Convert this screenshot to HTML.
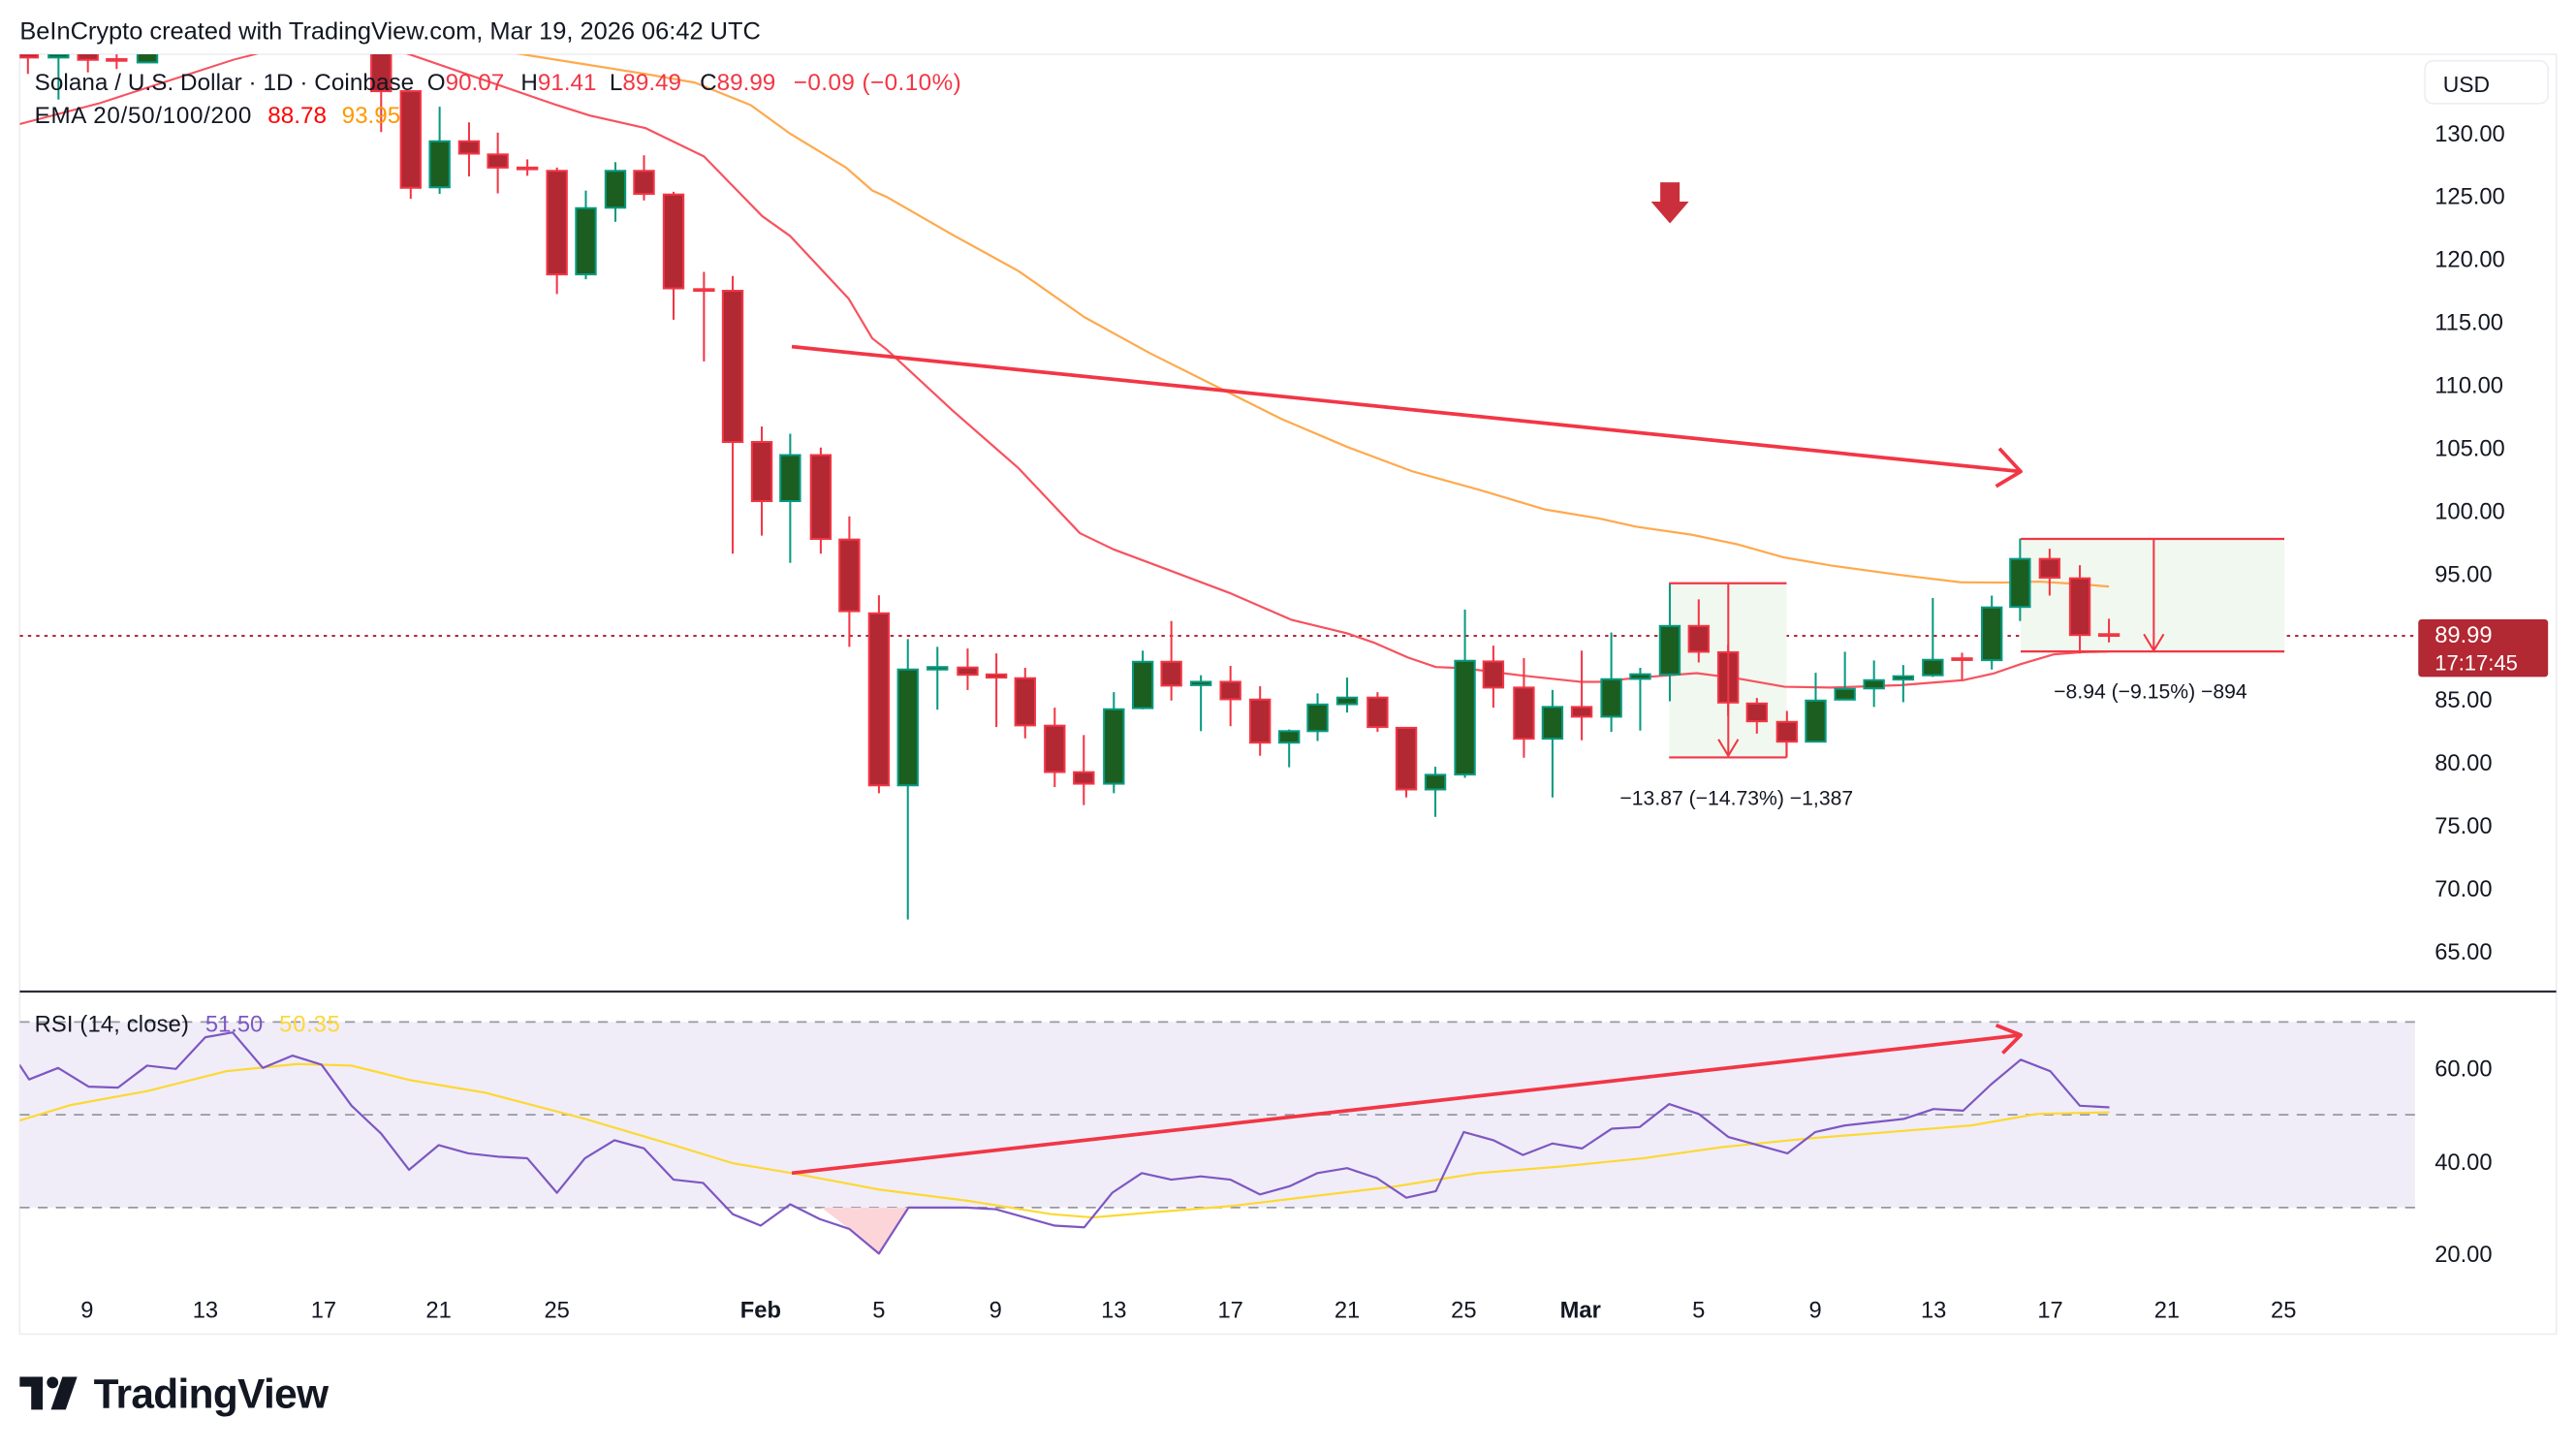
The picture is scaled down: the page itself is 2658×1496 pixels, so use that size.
<!DOCTYPE html>
<html><head><meta charset="utf-8"><style>
html,body{margin:0;padding:0;background:#fff;}
svg{display:block;font-family:"Liberation Sans",sans-serif;}
</style></head><body>
<svg id="s" width="2658" height="1496" viewBox="0 0 1568 882.55" preserveAspectRatio="none" xmlns="http://www.w3.org/2000/svg">
<rect width="1568" height="882.55" fill="#fff"/>
<defs>
<clipPath id="cp"><rect x="12" y="33" width="1458" height="570"/></clipPath>
<clipPath id="cr"><rect x="12" y="604" width="1458" height="180"/></clipPath>
</defs>
<text x="12" y="24" font-size="15" fill="#131722" textLength="451">BeInCrypto created with TradingView.com, Mar 19, 2026 06:42 UTC</text>
<rect x="12" y="33" width="1544" height="779" fill="none" stroke="#eceef2" stroke-width="1"/>
<rect x="1476" y="37" width="75" height="26" rx="5" fill="#fff" stroke="#eceef2"/>
<text x="1487" y="56" font-size="13.5" fill="#131722">USD</text>
<g font-size="14" fill="#131722" id="yax"></g>
<g id="price" clip-path="url(#cp)"></g>
<line x1="12" y1="603.5" x2="1556" y2="603.5" stroke="#2a2e39" stroke-width="1.3"/>
<rect x="12" y="622" width="1458" height="113" fill="#f0edf8"/>
<g stroke="#9598a1" stroke-width="1" stroke-dasharray="6,5">
<line x1="12" y1="622" x2="1470" y2="622"/><line x1="12" y1="678.5" x2="1470" y2="678.5"/><line x1="12" y1="735" x2="1470" y2="735"/>
</g>
<g id="rsi" clip-path="url(#cr)"></g>
<text x="21" y="628" font-size="14" fill="#131722" textLength="94">RSI (14, close)</text>
<text x="125" y="628" font-size="14" fill="#7e57c2" textLength="35">51.50</text>
<text x="170" y="628" font-size="14" fill="#fdd835" textLength="37">50.35</text>
<g font-size="14" fill="#131722">
<text x="1482" y="655">60.00</text><text x="1482" y="712">40.00</text><text x="1482" y="768">20.00</text>
</g>
<g font-size="14" fill="#131722" text-anchor="middle" id="xax"></g>
<g font-size="14.3" fill="#131722">
<text x="21" y="55" textLength="231">Solana / U.S. Dollar · 1D · Coinbase</text>
<text x="260" y="55">O<tspan fill="#f23645">90.07</tspan></text>
<text x="317" y="55">H<tspan fill="#f23645">91.41</tspan></text>
<text x="371" y="55">L<tspan fill="#f23645">89.49</tspan></text>
<text x="426" y="55">C<tspan fill="#f23645">89.99</tspan></text>
<text x="483" y="55" fill="#f23645" textLength="102">−0.09 (−0.10%)</text>
<text x="21" y="75" textLength="132">EMA 20/50/100/200</text>
<text x="163" y="75" fill="#ff0000">88.78</text>
<text x="208" y="75" fill="#ff9800">93.95</text>
</g>
<rect x="1472" y="377" width="79" height="35" rx="2" fill="#b22833"/>
<text x="1482" y="391" font-size="14" fill="#fff">89.99</text>
<text x="1482" y="408" font-size="13" fill="#fff">17:17:45</text>
<g fill="#131722">
<rect x="12" y="838" width="14" height="6"/><rect x="19" y="838" width="7" height="20"/>
<circle cx="32" cy="841.5" r="3.5"/>
<polygon points="38,838 47,838 40,858 31,858"/>
</g>
<text x="57" y="857" font-size="25" font-weight="bold" fill="#131722" textLength="143">TradingView</text>
</svg>
<script>
var NS="http://www.w3.org/2000/svg";
function el(p,t,a,txt){var e=document.createElementNS(NS,t);for(var k in a)e.setAttribute(k,a[k]);if(txt)e.textContent=txt;p.appendChild(e);return e;}
var yax=document.getElementById('yax');
for(var p=130;p>=65;p-=5){var y=81+(130-p)*7.662;if(Math.abs(y-387)<14)continue;el(yax,'text',{x:1482,y:y+5},p.toFixed(2));}
var xax=document.getElementById('xax');
[[53,'9'],[125,'13'],[197,'17'],[267,'21'],[339,'25'],[463,'Feb',1],[535,'5'],[606,'9'],[678,'13'],[749,'17'],[820,'21'],[891,'25'],[962,'Mar',1],[1034,'5'],[1105,'9'],[1177,'13'],[1248,'17'],[1319,'21'],[1390,'25']].forEach(function(a){var t=el(xax,'text',{x:a[0],y:802},a[1]);if(a[2])t.setAttribute('font-weight','bold');});
var g=document.getElementById('price');
el(g,'line',{x1:12,y1:387,x2:1470,y2:387,stroke:'#b22833','stroke-width':1.2,'stroke-dasharray':'2,3'});
el(g,'rect',{x:1016,y:355,width:71.5,height:106,fill:'#f1f8ef'});
el(g,'rect',{x:1230,y:328,width:160.5,height:68.5,fill:'#f1f8ef'});
function pl(pts,c,w,par){el(par||g,'polyline',{points:pts.map(function(q){return q.join(',')}).join(' '),fill:'none',stroke:c,'stroke-width':w||1.2,'stroke-linejoin':'round'});}
pl([[298,29.5],[321.8,33.7],[393,45],[423,50.3],[457,64],[481,81.4],[515,102],[531,116],[540,120],[580,143],[620,165],[660,193],[700,215],[740,235],[780,255],[820,272],[860,287],[900,298],[940,310],[973.5,315.6],[996,320.6],[1030,325.5],[1058,331.4],[1086,339.3],[1114.5,344.2],[1157,350],[1193.5,354.4],[1219,354.6],[1241,354],[1267,355.6],[1283.7,357]],'#ffa94d',1.3);
pl([[12,75.5],[60,63],[100,50],[142,36.4],[159,32],[180,26]],'#f7525f',1.2);
pl([[230,26],[247,32.3],[339,64],[359,70.3],[393,78],[428.5,95.2],[464,131.6],[481,143.7],[516.5,181.7],[531,206],[540,213],[580,250],[620,285],[657.3,324.5],[677.6,334.3],[711.5,347],[748.7,361],[786,377.2],[820,385.5],[837,391.4],[857,400.2],[874,406],[891,406.7],[925,411],[962,415],[973.5,415],[998,412.4],[1016,411],[1032.7,409.7],[1058,413],[1086.3,418],[1114.5,418.5],[1157,417],[1195,414],[1213.2,410],[1230,404.2],[1250,398.3],[1267,397],[1283.7,396.5]],'#f7525f',1.3);
var C=[[17,33,35,30,45,0],[35.6,33,35,30,60.6,1],[53.5,30,36.4,30,44,0],[71,36,37,31,42,0],[89.7,30,38,30,38,1],
[232,20,55.5,20,80.4,0],[250,55.5,114.3,55.5,121,0],[267.6,86,114,65,118,1],[285.5,86,93.5,74.5,107.4,0],[303,94,102,80.7,117.7,0],[321,102,103,97,107,0],[339,104,167,102,179,0],[356.6,126.7,167,116,170,1],[374.6,104,126.4,98.7,135,1],[392,104,118,94.5,122,0],[410,118.4,175.5,116.7,194.6,0],[428.5,176,177,165.5,220,0],[446,177,269,168,337,0],[463.7,269,305,259.6,326,0],[481,277,305,264,342.6,1],[499.6,277,328,272.4,337,0],[517,328.4,372,314.3,393.7,0],
[535,373.3,478,362.3,482.8,0],[552.6,407.5,478,389,559.6,1],[570.6,406,407.5,393.7,432,1],[589,406.3,410.7,394.7,420,0],[606.5,410.5,412.4,397.7,442.5,0],[624,412.8,441.5,406.5,449.4,0],[642,441.7,469.9,430.7,479,0],[659.7,470,477,447.4,490,0],[678,431.7,477,421.3,482.8,1],[695.6,402.8,431,396,431.7,1],[713,402.8,417.3,378,426.4,0],[731,415,417,411,445,1],[749,415,425.6,405.3,442,0],[767,425.8,452,417.7,460,0],[784.7,445,452,444,467,1],[802,428.8,445,422,451,1],[820,424.6,428.6,412.4,433.7,1],[838.5,424.6,442.5,421.3,445.5,0],[856,443,480.5,443,485.4,0],[873.7,471.6,480.5,466.7,497.2,1],[891.7,402.2,471.4,371,473.4,1],[909,402.6,418.5,393,430.7,0],[927.6,418.5,449.6,400.6,461.2,0],[945,430.3,449.6,420,485.4,1],[962.8,430.3,436.2,396,450.6,0],[980.8,413.4,436.2,385,445.5,1],[998.4,410.4,413.2,406.5,444.7,1],[1016.4,381,410.5,355,426.8,1],[1034,381,396.7,364.8,403.2,0],[1051.9,397,427.6,392.4,435.6,0],[1069.4,428.2,439,424.8,446.5,0],[1087.7,439.4,451.4,432.7,451.4,0],[1105.2,426.4,451.4,409.5,451.4,1],[1123,419.3,425.8,396.7,425.8,1],[1140.7,414,419,402,430.3,1],[1158.5,411.6,413.6,404.8,427.4,1],[1176.5,401.6,411,364,412,1],[1194.3,400.7,401.7,397.3,413.6,0],[1212.4,369.7,401.8,362.5,407.5,1],[1229.6,340.2,369.4,327.8,378,1],[1247.6,340.2,351.6,334,362.5,0],[1266,352,386.5,344,397.7,0],[1283.7,386,387,376.6,391,0]];
C.forEach(function(c){var col=c[5]?'#089981':'#f23645',fill=c[5]?'#1b5e20':'#b22833';
el(g,'line',{x1:c[0],y1:c[3],x2:c[0],y2:c[4],stroke:col,'stroke-width':1.2});
var h=Math.max(c[2]-c[1],1);
el(g,'rect',{x:c[0]-6,y:c[1],width:12,height:h,fill:fill,stroke:col,'stroke-width':1.2});});
var R='#f23645';
el(g,'line',{x1:1016,y1:355,x2:1087.5,y2:355,stroke:R,'stroke-width':1.3});
el(g,'line',{x1:1016,y1:461,x2:1087.5,y2:461,stroke:R,'stroke-width':1.3});
el(g,'line',{x1:1087.5,y1:451,x2:1087.5,y2:461,stroke:R,'stroke-width':1.3});
el(g,'line',{x1:1052,y1:355,x2:1052,y2:461,stroke:R,'stroke-width':1.2});
pl([[1046,450],[1052,460],[1058,450]],R,1.2);
el(g,'line',{x1:1230,y1:328,x2:1390.5,y2:328,stroke:R,'stroke-width':1.3});
el(g,'line',{x1:1230,y1:396.5,x2:1390.5,y2:396.5,stroke:R,'stroke-width':1.3});
el(g,'line',{x1:1311,y1:328,x2:1311,y2:396.5,stroke:R,'stroke-width':1.2});
pl([[1305,386],[1311,396],[1317,386]],R,1.2);
el(g,'text',{x:1057,y:490,'font-size':12.5,fill:'#131722','text-anchor':'middle'},'−13.87 (−14.73%) −1,387');
el(g,'text',{x:1309,y:425,'font-size':12.5,fill:'#131722','text-anchor':'middle'},'−8.94 (−9.15%) −894');
el(g,'line',{x1:482,y1:211,x2:1230,y2:287,stroke:'#f23645','stroke-width':2.2});
pl([[1217,273],[1230,287],[1215,296]],'#f23645',2.2);
el(g,'polygon',{points:'1010.6,111 1022.4,111 1022.4,122.7 1028,122.7 1016.5,136 1005,122.7 1010.6,122.7',fill:'#cc2f3c'});
var r=document.getElementById('rsi');
el(r,'polygon',{points:'500,735 517,748 535,763 553,735',fill:'#fbd5d8'});
pl([[12,682],[43,672.6],[90,664],[137.7,652],[181,647.6],[214,648.6],[250,657.5],[295,665],[356,681],[410,697],[446,708],[482,714],[535,724],[590,731],[640,739],[665,741],[700,738],[750,734],[800,728],[850,722],[900,714],[950,710],[1000,705],[1050,698],[1100,693],[1150,689],[1200,685],[1240,678],[1284,677]],'#fdd835',1.3,r);
pl([[11.8,648],[17.7,657],[35.4,650],[54,661.4],[71.8,662],[89.5,648.6],[107,650.6],[125,631.3],[141.6,628.4],[160,650],[178,642.5],[195.7,648],[214,673],[232,690],[249,712],[267,697],[285,702],[303,704],[321,705],[339,726],[356,705],[374,694],[392,699],[410,718],[428,720],[446,739],[463,746],[481,733],[499,742],[517,748],[535,763],[553,735],[570,735],[588,735],[606,736],[624,741],[642,746],[660,747],[677,726],[695,714],[713,718],[731,716],[749,718],[767,727],[785,722],[802,714],[820,711],[838,717],[856,729],[874,725],[891,689],[909,694],[927,703],[945,696],[963,699],[981,687],[998,686],[1016,672],[1034,678],[1052,692],[1070,697],[1088,702],[1105,689],[1123,685],[1141,683],[1159,681],[1177,675],[1195,676],[1212,660],[1230,645],[1248,652],[1266,673],[1284,674]],'#7e57c2',1.3,r);
el(r,'line',{x1:482,y1:714,x2:1230,y2:630,stroke:'#f23645','stroke-width':2.2});
pl([[1215,624],[1230,630],[1219,641]],'#f23645',2.2,r);
</script>
</body></html>
